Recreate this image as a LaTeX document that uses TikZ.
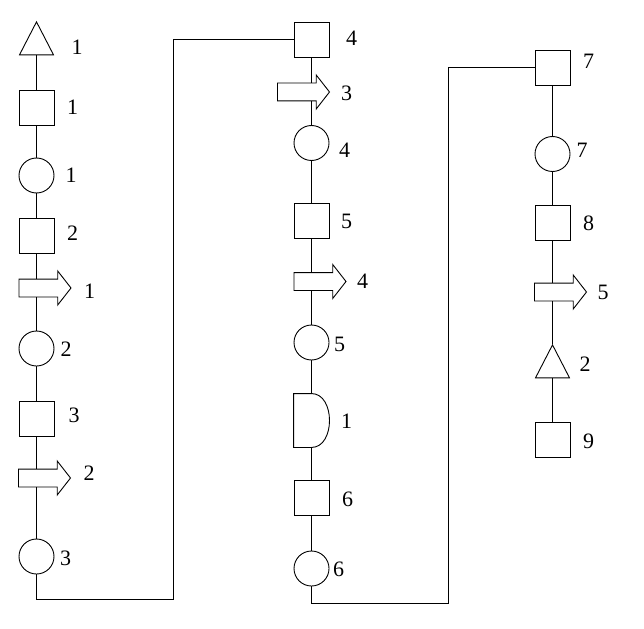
\documentclass[tikz,border=0pt]{standalone}
\usepackage{fontspec}
\setmainfont{Liberation Serif}
\usetikzlibrary{shapes.geometric,shapes.arrows,backgrounds}
\tikzset{every node/.style={draw,fill=white,line width=0.9pt,inner sep=0pt}}
\tikzset{insp/.style={rectangle,minimum size=35pt}}
\tikzset{op/.style={circle,minimum size=35pt}}
\tikzset{move/.style={single arrow,inner xsep=0pt,inner ysep=8.5pt,minimum height=52pt,single arrow head extend=8pt,single arrow tip angle=104}}
\tikzset{store/.style={isosceles triangle,isosceles triangle stretches,shape border rotate=90,minimum width=34pt,minimum height=33pt}}
\tikzset{hold/.style={draw=none,fill=none,minimum width=35pt,minimum height=53pt}}
\tikzset{num/.style={draw=none,fill=none,font=\fontsize{22}{26}\selectfont}}

\begin{document}
\begin{tikzpicture}[x=1pt,y=-1pt,line width=0.9pt]
\useasboundingbox (0,0) rectangle (644,628);
% first column
\node[store](store1) at (36.5,44.5) {};
\node[insp](insp1) at (36.5,107.5) {};
\node[op](op1) at (36.5,175.5) {};
\node[insp](insp2) at (36.5,235.5) {};
\node[move](move1) at (41.5,288) {};
\node[op](op2) at (36.5,348.5) {};
\node[insp](insp3) at (36.5,418.5) {};
\node[move](move2) at (41,478) {};
\node[op](op3) at (36.5,556.5) {};
\node[num](store1no) at (77,47) {1};
\node[num](insp1no) at (72.5,107) {1};
\node[num](op1no) at (71,175) {1};
\node[num](insp2no) at (72.5,233) {2};
\node[num](move1no) at (89.5,291) {1};
\node[num](op2no) at (66,349) {2};
\node[num](insp3no) at (74,415) {3};
\node[num](move2no) at (89,473) {2};
\node[num](op3no) at (65.5,558) {3};
% second column
\node[insp](insp4) at (311.5,39.5) {};
\node[move](move3) at (300,92) {};
\node[op](op4) at (311.5,143) {};
\node[insp](insp5) at (311.5,221) {};
\node[move](move4) at (316.5,281.5) {};
\node[op](op5) at (311.5,342.5) {};
\node[hold](hold1) at (311.5,420.5) {};
\node[insp](insp6) at (311.5,498) {};
\node[op](op6) at (311.5,568.5) {};
\node[num](insp4no) at (351.5,38) {4};
\node[num](move3no) at (346.5,93) {3};
\node[num](op4no) at (344.5,150.5) {4};
\node[num](insp5no) at (346.5,221.5) {5};
\node[num](move4no) at (362.5,281.5) {4};
\node[num](op5no) at (339.5,344.5) {5};
\node[num](hold1no) at (346.5,421.5) {1};
\node[num](insp6no) at (347.5,499) {6};
\node[num](op6no) at (338.5,569) {6};
% third column
\node[insp](insp7) at (552.5,67.5) {};
\node[op](op7) at (552.5,154) {};
\node[insp](insp8) at (552.5,222.5) {};
\node[move](move5) at (557,292) {};
\node[store](store2) at (552.5,367.5) {};
\node[insp](insp9) at (552.5,439.5) {};
\node[num](insp7no) at (588.5,61.5) {7};
\node[num](op7no) at (582,150.5) {7};
\node[num](insp8no) at (588.5,223.5) {8};
\node[num](move5no) at (603,292.5) {5};
\node[num](store2no) at (585,364.5) {2};
\node[num](insp9no) at (588.5,441.5) {9};

\draw (hold1.north west) -- (hold1.north) .. controls +(24,0) and +(24,0) .. (hold1.south) -- (hold1.south west) -- cycle;
\coordinate (bend1) at (173,599);
\coordinate (bend2) at (448.5,603);

\begin{pgfonlayer}{background}
\draw (store1) -- (insp1) -- (op1) -- (insp2) -- (insp2 |- move1) -- (op2) -- (insp3) -- (insp3 |- move2) -- (op3);
\draw (op3) |- (bend1) |- (insp4);
\draw (insp4) -- (insp4 |- move3) -- (op4) -- (insp5) -- (insp5 |- move4) -- (op5) -- (hold1) -- (insp6) -- (op6);
\draw (op6) |- (bend2) |- (insp7);
\draw (insp7) -- (op7) -- (insp8) -- (insp8 |- move5) -- (store2) -- (insp9);
\end{pgfonlayer}
\end{tikzpicture}
\end{document}
